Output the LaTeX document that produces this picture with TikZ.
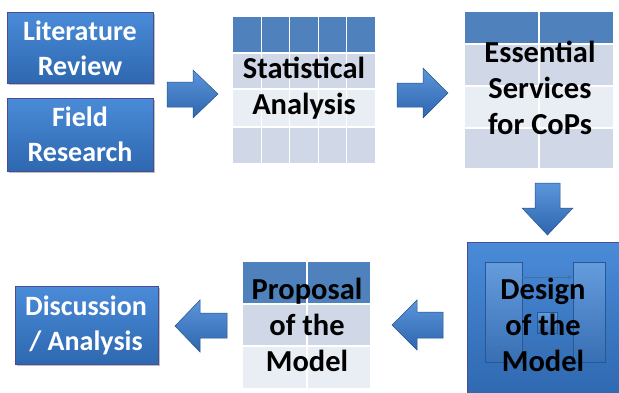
\documentclass[tikz,border=0pt]{standalone}
\usepackage{fontspec}
\setmainfont{Carlito}
\begin{document}
\begin{tikzpicture}[x=1pt,y=-1pt,
  bluebox/.style={draw=blue!40!black!70, line width=0.6pt, top color=bluetop, bottom color=bluebot},
  innerbox/.style={draw=bluebot!85!black, line width=0.6pt, top color=bluetop!85!white, bottom color=bluebot!95!white},
  boxtext/.style={text=white, font=\fontsize{28}{35}\selectfont\bfseries, align=center},
  tabtext/.style={text=black, font=\fontsize{30.5}{36}\selectfont\bfseries, align=center},
  blockarrow/.style={draw=bluebot!80!black, line width=0.5pt, top color=arrtop, bottom color=arrbot},
  cellline/.style={draw=white, line width=1.2pt},
  thinarrow/.style={draw=arrline, line width=0.8pt, -latex}]
\definecolor{bluetop}{HTML}{4A8BD8}
\definecolor{bluebot}{HTML}{2E68B0}
\definecolor{arrtop}{HTML}{5B95DA}
\definecolor{arrbot}{HTML}{2F66AE}
\definecolor{arrline}{HTML}{4A6F9E}
\definecolor{hdr}{HTML}{4F81BD}
\definecolor{rowa}{HTML}{D0D8E8}
\definecolor{rowb}{HTML}{E9EDF4}
\useasboundingbox (0,0) rectangle (619,392);
\fill[white] (0,0) rectangle (619,392);
% Literature / Field boxes
\fill[black!25] (9,14) rectangle (155,85);
\fill[black!25] (9,100) rectangle (155,173);
\shade[bluebox] (7,12) rectangle (153,83);
\shade[bluebox] (7,98) rectangle (153,171);
\node[boxtext] (lit) at (80,48) {Literature\\Review};
\node[boxtext] (field) at (80,134) {Field\\Research};
% arrow 1
\shade[blockarrow] (167,82) -- (193,82) -- (193,70) -- (218,94) -- (193,118) -- (193,107) -- (167,107) -- cycle;
% Statistical table
\fill[hdr] (233,17) rectangle (375,53);
\fill[rowa] (233,53) rectangle (375,89);
\fill[rowb] (233,89) rectangle (375,127);
\fill[rowa] (233,127) rectangle (375,163);
\foreach \x in {261.4,289.8,318.2,346.6} \draw[cellline] (\x,17) -- (\x,163);
\foreach \y in {53,89,127} \draw[cellline] (233,\y) -- (375,\y);
\node[tabtext] (stat) at (304,88) {Statistical\\Analysis};
% arrow 2
\shade[blockarrow] (397,83) -- (423,83) -- (423,68) -- (448,93) -- (423,118) -- (423,107) -- (397,107) -- cycle;
% Essential table
\fill[hdr] (465,12) rectangle (613,44);
\fill[rowa] (465,44) rectangle (613,86);
\fill[rowb] (465,86) rectangle (613,128);
\fill[rowa] (465,128) rectangle (613,168);
\draw[cellline] (539,12) -- (539,168);
\foreach \y in {44,86,128} \draw[cellline] (465,\y) -- (613,\y);
\node[tabtext] (ess) at (540,88) {Essential\\Services\\for CoPs};
% down arrow
\shade[blockarrow] (535,183) -- (560,183) -- (560,208) -- (573,208) -- (547.5,235) -- (522,208) -- (535,208) -- cycle;
% Design box
\fill[black!25] (469,244) rectangle (619,392);
\shade[bluebox] (467,242) rectangle (625,397);
\shade[innerbox] (485,262) rectangle (522,362);
\shade[innerbox] (573,262) rectangle (605,362);
\draw[thinarrow] (522,277) -- (573,277);
\draw[thinarrow] (573,348) -- (522,348);
\shade[innerbox] (537,312) rectangle (557,333);
\node[tabtext] (design) at (543,325) {Design\\of the\\Model};
% left arrow (design -> proposal)
\shade[blockarrow] (443,312) -- (417,312) -- (417,300) -- (392,325) -- (417,350) -- (417,338) -- (443,338) -- cycle;
% Proposal table
\fill[hdr] (243,262) rectangle (370,304);
\fill[rowa] (243,304) rectangle (370,346);
\fill[rowb] (243,346) rectangle (370,388);
\draw[cellline] (307,262) -- (307,388);
\foreach \y in {304,346} \draw[cellline] (243,\y) -- (370,\y);
\node[tabtext] (prop) at (307,325) {Proposal\\of the\\Model};
% left arrow (proposal -> discussion)
\shade[blockarrow] (227,313) -- (200,313) -- (200,300) -- (175,326) -- (200,352) -- (200,338) -- (227,338) -- cycle;
% Discussion box
\fill[black!25] (17,288) rectangle (160,366);
\shade[bluebox] (15,286) rectangle (158,364);
\node[boxtext] (disc) at (86,325) {Discussion\\/ Analysis};
\end{tikzpicture}
\end{document}
